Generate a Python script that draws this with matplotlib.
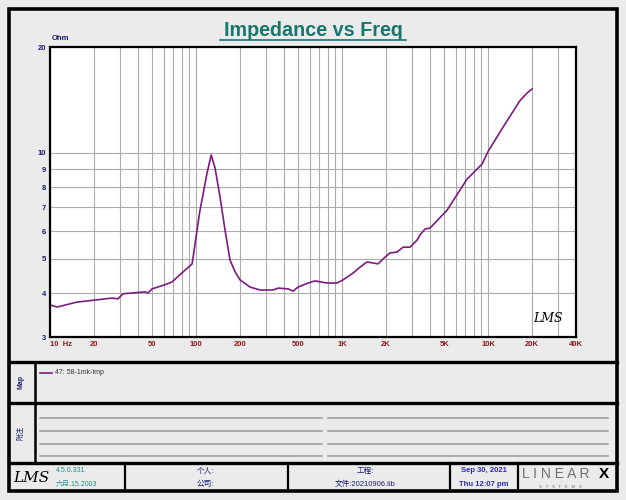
import numpy as np
import matplotlib
matplotlib.use("Agg")
import matplotlib.pyplot as plt
from matplotlib.ticker import FixedLocator, LogLocator, NullFormatter
from matplotlib.patches import Rectangle

plt.rcParams['font.family'] = ['Liberation Sans', 'Noto Sans CJK SC', 'DejaVu Sans']

# impedance curve
freq_hz = [10, 11.2, 15.3, 20.3, 26.6, 29.2, 31.6, 44.7, 46.9, 50, 61, 68.5, 80, 94,
           106, 119, 127, 135, 146, 158, 171, 185, 200, 234, 274, 337, 365, 427, 462,
           500, 585, 653, 789, 924, 1016, 1190, 1330, 1480, 1630, 1765, 1910, 2130,
           2380, 2620, 2920, 3270, 3420, 3700, 4010, 5240, 7180, 9100, 10000, 12680,
           16570, 18500, 20000]
imp_ohm = [3.70, 3.65, 3.77, 3.82, 3.87, 3.85, 3.98, 4.03, 4.00, 4.11, 4.22, 4.30, 4.56, 4.84,
           6.80, 8.77, 9.87, 9.06, 7.50, 6.04, 4.96, 4.60, 4.36, 4.16, 4.08, 4.08, 4.13, 4.11, 4.05,
           4.16, 4.27, 4.33, 4.27, 4.27, 4.36, 4.56, 4.74, 4.90, 4.87, 4.84, 5.00, 5.20,
           5.23, 5.40, 5.40, 5.66, 5.85, 6.08, 6.12, 6.88, 8.43, 9.30, 10.1, 11.85,
           14.1, 14.8, 15.2]

x_ticks = [10, 20, 50, 100, 200, 500, 1000, 2000, 5000, 10000, 20000, 40000]
x_labels = ['10  Hz', '20', '50', '100', '200', '500', '1K', '2K', '5K', '10K', '20K', '40K']
y_ticks = [3, 4, 5, 6, 7, 8, 9, 10, 20]
y_labels = ['3', '4', '5', '6', '7', '8', '9', '10', '20']

legend_name = '47: 58-1mk-imp'
curve_color = '#7d1a80'

W, H = 626, 500
fig = plt.figure(figsize=(W / 100, H / 100), dpi=100, facecolor='#ebebeb')

# page frame drawn in pixel coordinates
ov = fig.add_axes([0, 0, 1, 1], zorder=-1)
ov.set_xlim(0, W)
ov.set_ylim(H, 0)
ov.axis('off')
ov.add_patch(Rectangle((9, 9), 608, 482, fill=False, lw=2.6, ec='black'))
for y in [362, 403, 463]:
    ov.plot([9, 617], [y, y], color='black', lw=2.4)
ov.plot([35, 35], [362, 463], color='black', lw=1.8)
for x in [125, 288, 450, 518]:
    ov.plot([x, x], [463, 491], color='black', lw=1.6)
for y in [418, 431, 444, 456]:
    ov.plot([40, 322], [y, y], color='#9a9a9a', lw=1.1)
    ov.plot([328, 608], [y, y], color='#9a9a9a', lw=1.1)

# title with underline
ov.text(313, 30, 'Impedance vs Freq', ha='center', va='center', fontsize=14.2,
        fontweight='bold', color='#17776f')
ov.plot([220, 406], [40, 40], color='#17776f', lw=1.2)
ov.text(52, 42, 'Ohm', fontsize=5.5, fontweight='bold', color='#1c1c6e', va='bottom')

# legend row
ov.plot([40, 52], [373, 373], color=curve_color, lw=1.2)
ov.text(55, 373, legend_name, fontsize=5, color='#333333', va='center')
ov.text(21, 382, 'Map', rotation=90, fontsize=5, color='#1c1c6e', ha='center', va='center',
        fontweight='bold')
ov.text(21, 433, '附注', rotation=90, fontsize=5, color='#1c1c6e', ha='center', va='center')

# footer
ov.text(31, 478, 'LMS', fontsize=11, style='italic', family='DejaVu Serif', ha='center',
        va='center', color='black')
ov.text(56, 471, '4.5.0.331', fontsize=5, color='#1f8f8f', va='center')
ov.text(56, 484, '六月.15.2003', fontsize=5, color='#1f8f8f', va='center')
ov.text(205, 471, '个人:', fontsize=5.5, color='#1c1c6e', ha='center', va='center')
ov.text(205, 484, '公司:', fontsize=5.5, color='#1c1c6e', ha='center', va='center')
ov.text(365, 471, '工程:', fontsize=5.5, color='#1c1c6e', ha='center', va='center')
ov.text(365, 484, '文件:20210906.lib', fontsize=5.5, color='#1c1c6e', ha='center', va='center')
ov.text(484, 471, 'Sep 30, 2021', fontsize=5.5, color='#2a2ab0', ha='center', va='center',
        fontweight='bold')
ov.text(484, 484, 'Thu 12:07 pm', fontsize=5.5, color='#2a2ab0', ha='center', va='center',
        fontweight='bold')
ov.text(522, 474, 'L I N E A R', fontsize=10, color='#707070', va='center', ha='left')
ov.text(604, 474, 'X', fontsize=11, fontweight='bold', color='black', va='center', ha='center')
ov.text(560, 487, 'S   Y   S   T   E   M   S', fontsize=3.2, color='#707070', va='center',
        ha='center')

# impedance plot
ax = fig.add_axes([50 / W, 1 - 337 / H, 526 / W, 290 / H], zorder=1)
ax.set_facecolor('white')
ax.plot(freq_hz, imp_ohm, color=curve_color, lw=1.2)
ax.set_xscale('log')
ax.set_yscale('log')
ax.set_xlim(10, 40000)
ax.set_ylim(3, 20)

ax.xaxis.set_major_locator(FixedLocator(x_ticks))
ax.xaxis.set_minor_locator(LogLocator(base=10, subs=np.arange(2, 10)))
ax.xaxis.set_minor_formatter(NullFormatter())
ax.set_xticklabels(x_labels)
ax.yaxis.set_major_locator(FixedLocator(y_ticks))
ax.yaxis.set_minor_locator(LogLocator(base=10, subs=np.arange(2, 10)))
ax.yaxis.set_minor_formatter(NullFormatter())
ax.set_yticklabels(y_labels)

ax.grid(True, which='both', color='#ababab', lw=0.8)
ax.tick_params(which='both', length=0)
ax.tick_params(axis='x', pad=3, labelsize=5.5, labelcolor='#8b1a1a')
ax.tick_params(axis='y', pad=3, labelsize=5.5, labelcolor='#1c1c6e')
for lbl in ax.get_xticklabels() + ax.get_yticklabels():
    lbl.set_fontweight('bold')
ax.get_xticklabels()[0].set_ha('left')
for s in ax.spines.values():
    s.set_linewidth(1.6)
    s.set_color('black')

ax.text(0.975, 0.04, 'LMS', transform=ax.transAxes, fontsize=9, style='italic',
        family='DejaVu Serif', ha='right', va='bottom', color='black')

fig.savefig('out.png', dpi=100, facecolor=fig.get_facecolor())
